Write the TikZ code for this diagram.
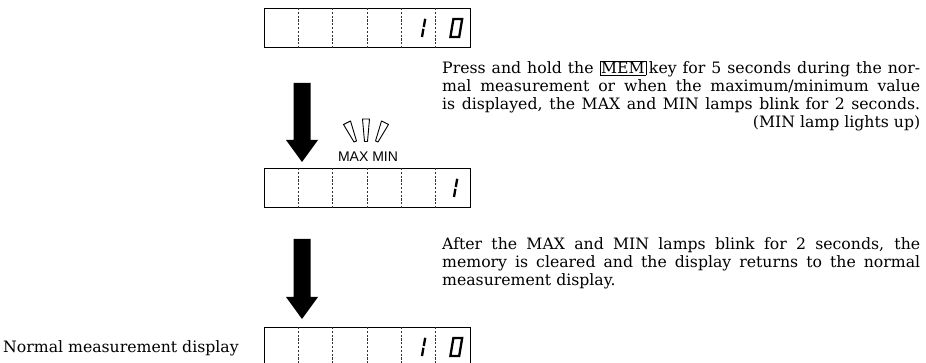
\documentclass[tikz,border=0pt]{standalone}
\usepackage{fontspec}
\newfontfamily\lampfont{Liberation Sans}
\newfontfamily\txtfont{DejaVu Serif}
\usetikzlibrary{calc}
\setlength\fboxsep{1pt}
\setlength\fboxrule{0.6pt}
\tikzset{
  dispbox/.style={draw, line width=1.1pt, minimum width=206pt, minimum height=39pt, inner sep=0pt, anchor=north west},
  divider/.style={line width=0.7pt, dash pattern=on 2.2pt off 1.6pt, black!80},
  seg/.style={line width=2.3pt},
  lamp/.style={draw, line width=0.9pt, line join=round},
  bigarrow/.style={fill=black},
  para/.style={text width=478pt, inner sep=0pt, anchor=base west, font=\txtfont\fontsize{15.7}{18}\selectfont},
  plain/.style={inner sep=0pt, anchor=base west, font=\txtfont\fontsize{15.7}{18}\selectfont},
  pics/one/.style={code={\draw[seg] (2,-1) -- (3.4,-9.2); \draw[seg] (3.8,-11) -- (5.2,-19.2);}},
  pics/zero/.style={code={\draw[seg, line join=miter] (0.4,-1) -- (9.2,-1) -- (12.2,-19) -- (3.4,-19) -- cycle;}}
}
\begin{document}
\begin{tikzpicture}[x=1pt,y=-1pt]
\useasboundingbox (0,0) rectangle (926,363);
\clip (0,0) rectangle (926,363);
% display boxes
\node[dispbox] (d1) at (264,8) {};
\node[dispbox] (d2) at (264,168) {};
\node[dispbox] (d3) at (264,327) {};
\foreach \b in {d1,d2,d3}{
  \foreach \i in {1,...,5}{
    \draw[divider] ($(\b.north west)+(34.333*\i,0)$) -- ($(\b.south west)+(34.333*\i,0)$);
  }
}
% digits
\pic at ($(d1.north west)+(156,30)$) {one};
\pic at ($(d1.north west)+(186,30)$) {zero};
\pic at ($(d2.north west)+(188,30)$) {one};
\pic at ($(d3.north west)+(156,30)$) {one};
\pic at ($(d3.north west)+(186,30)$) {zero};
% arrows
\coordinate (a1s) at (302,83);
\coordinate (a1e) at (302,162);
\coordinate (a2s) at (302,239);
\coordinate (a2e) at (302,319);
\foreach \s/\e in {a1s/a1e, a2s/a2e}{
  \fill[bigarrow] ($(\s)+(-8.5,0)$) -- ($(\e)+(-8.5,-22)$) -- ($(\e)+(-16,-22)$) -- (\e)
    -- ($(\e)+(16,-22)$) -- ($(\e)+(8.5,-22)$) -- ($(\s)+(8.5,0)$) -- cycle;
}
% lamps
\draw[lamp] (343.5,124.5) -- (350.5,121) -- (356.5,141) -- (354,142) -- cycle;
\draw[lamp] (362.5,119) -- (369.5,119) -- (367.5,141.5) -- (364.5,141.5) -- cycle;
\draw[lamp] (388.5,124.5) -- (381.5,121) -- (375.5,141) -- (378,142) -- cycle;
\node[inner sep=0pt, anchor=base, font=\lampfont\fontsize{14}{16}\selectfont] (mm) at (368,162) {MAX MIN};
% texts
\node[para] (p1) at (442,74) {\spaceskip=0pt\xspaceskip=0pt%
\makebox[\linewidth][s]{Press and hold the \fbox{MEM}\,key for 5 seconds during the nor-}\\
\makebox[\linewidth][s]{mal measurement or when the maximum/minimum value}\\
\makebox[\linewidth][s]{is displayed, the MAX and MIN lamps blink for 2 seconds.}\\
\makebox[\linewidth][r]{(MIN lamp lights up)}};
\node[para] (p2) at (442,250) {\spaceskip=0pt\xspaceskip=0pt%
\makebox[\linewidth][s]{After the MAX and MIN lamps blink for 2 seconds, the}\\
\makebox[\linewidth][s]{memory is cleared and the display returns to the normal}\\
measurement display.};
\node[plain] (nm) at (3,352) {Normal measurement display};
\end{tikzpicture}
\end{document}
